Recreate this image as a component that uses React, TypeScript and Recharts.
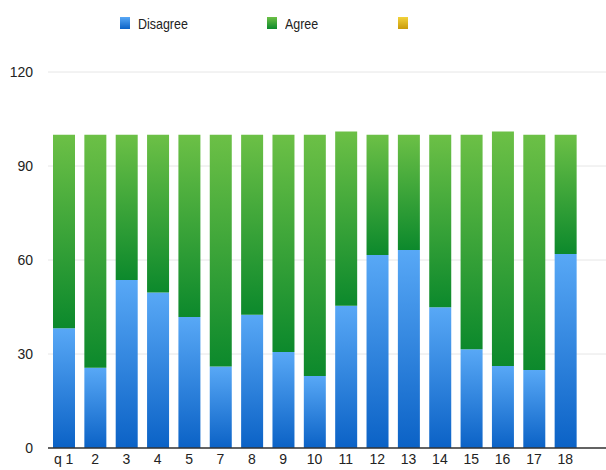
import { Bar, BarChart, CartesianGrid, XAxis, YAxis } from "recharts";

const questions = ["q 1", "2", "3", "4", "5", "7", "8", "9", "10", "11", "12", "13", "14", "15", "16", "17", "18"];
const disagree = [38.2, 25.6, 53.6, 49.6, 41.8, 26, 42.5, 30.6, 23, 45.4, 61.6, 63.2, 44.9, 31.5, 26.2, 24.9, 61.9];
const agree = [61.8, 74.4, 46.4, 50.4, 58.2, 74, 57.5, 69.4, 77, 55.6, 38.4, 36.8, 55.1, 68.5, 74.8, 75.1, 38.1];
const other = [0, 0, 0, 0, 0, 0, 0, 0, 0, 0, 0, 0, 0, 0, 0, 0, 0];
const seriesNames = ["Disagree", "Agree", ""];
const yTicks = [0, 30, 60, 90, 120];

const data = questions.map((q, i) => ({
  q,
  disagree: disagree[i],
  agree: agree[i],
  other: other[i],
}));

const swatches = ["url(#gBlue)", "url(#gGreen)", "url(#gYellow)"];
// legend swatch positions, as in the original
const legendX = [120, 267, 398];

function Gradients() {
  return (
    <defs>
      <linearGradient id="gBlue" x1="0" y1="0" x2="0" y2="1">
        <stop offset="0%" stopColor="#58a8f6" />
        <stop offset="100%" stopColor="#0b62c6" />
      </linearGradient>
      <linearGradient id="gGreen" x1="0" y1="0" x2="0" y2="1">
        <stop offset="0%" stopColor="#6cc046" />
        <stop offset="100%" stopColor="#0c892c" />
      </linearGradient>
      <linearGradient id="gYellow" x1="0" y1="0" x2="0" y2="1">
        <stop offset="0%" stopColor="#f2d23a" />
        <stop offset="100%" stopColor="#c99a0a" />
      </linearGradient>
    </defs>
  );
}

export default function App() {
  const font = "'Liberation Sans', Arial, Helvetica, sans-serif";
  return (
    <div style={{ position: "absolute", left: 0, top: 0, width: 606, height: 470, background: "#fff" }}>
      <svg width={0} height={0} style={{ position: "absolute" }}>
        <Gradients />
      </svg>
      {seriesNames.map((name, i) => (
        <div
          key={i}
          style={{
            position: "absolute",
            left: legendX[i],
            top: 13,
            height: 20,
            display: "flex",
            alignItems: "center",
            fontFamily: font,
            fontSize: 15,
            color: "#222",
            whiteSpace: "nowrap",
          }}
        >
          <svg width={10} height={12} style={{ marginRight: 8, display: "block" }}>
            <rect width={10} height={12} fill={swatches[i]} />
          </svg>
          <span style={{ display: "inline-block", transform: "scaleX(0.83)", transformOrigin: "left center" }}>
            {name}
          </span>
        </div>
      ))}
      <BarChart
        width={606}
        height={470}
        data={data}
        margin={{ top: 72, right: 0, left: 0, bottom: 0 }}
        barSize={22}
      >
        <Gradients />
        <CartesianGrid vertical={false} stroke="#e6e6e6" />
        <XAxis
          dataKey="q"
          interval={0}
          height={22}
          tickSize={0}
          tickMargin={6}
          padding={{ left: 0, right: 25 }}
          axisLine={{ stroke: "#333", strokeWidth: 1.5 }}
          tickLine={false}
          tick={{ fontSize: 14, fill: "#222", fontFamily: font }}
        />
        <YAxis
          domain={[0, 120]}
          ticks={yTicks}
          width={48}
          tickSize={0}
          tickMargin={15}
          axisLine={false}
          tickLine={false}
          tick={{ fontSize: 14, fill: "#222", fontFamily: font }}
        />
        <Bar dataKey="disagree" name={seriesNames[0]} stackId="a" fill="url(#gBlue)" isAnimationActive={false} />
        <Bar dataKey="agree" name={seriesNames[1]} stackId="a" fill="url(#gGreen)" isAnimationActive={false} />
        <Bar dataKey="other" name={seriesNames[2]} stackId="a" fill="url(#gYellow)" isAnimationActive={false} />
      </BarChart>
    </div>
  );
}
